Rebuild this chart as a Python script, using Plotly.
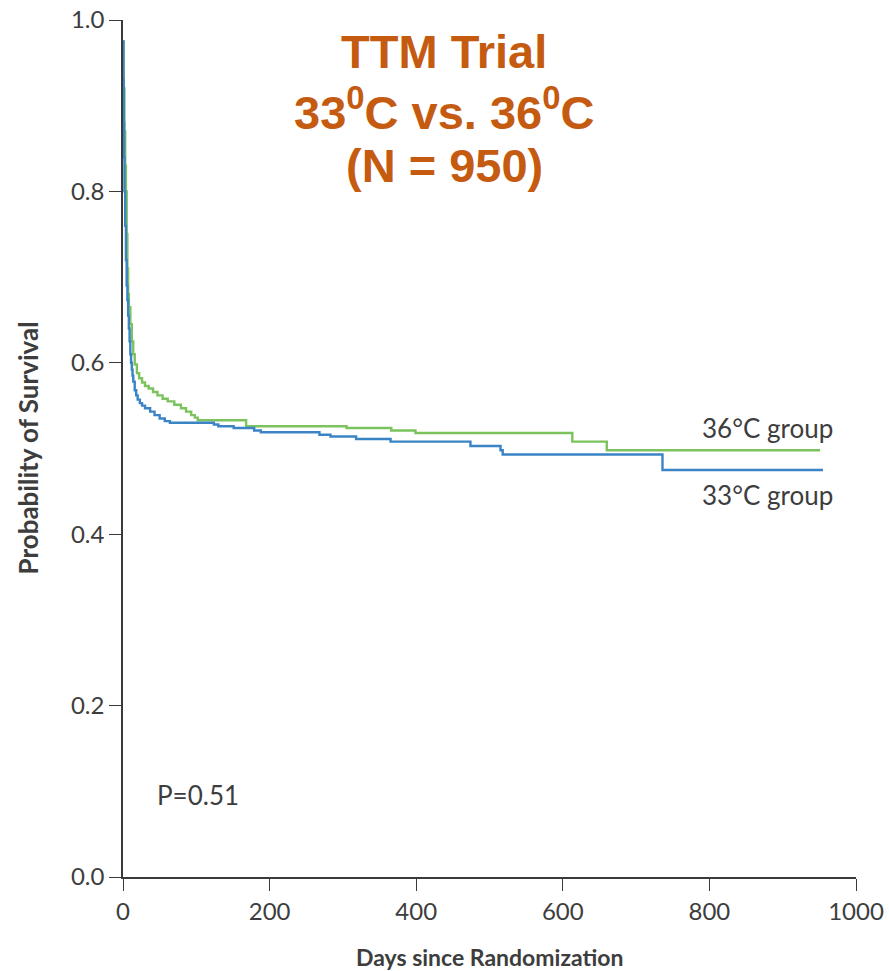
import plotly.graph_objects as go

# Kaplan-Meier step data (days, survival probability)
days_33 = [0, 0.5, 1, 1.5, 2, 3, 4, 5, 6, 7, 8, 9, 10, 11, 12, 13, 14, 16, 18, 20, 23, 26, 30,
           37, 43, 50, 57, 64, 124, 130, 151, 179, 188, 268, 283, 318, 365, 474, 515, 518, 736, 955]
surv_33 = [0.975, 0.93, 0.88, 0.84, 0.80, 0.76, 0.72, 0.69, 0.673, 0.655, 0.64, 0.625, 0.61, 0.60,
           0.592, 0.585, 0.578, 0.568, 0.562, 0.557, 0.553, 0.550, 0.547, 0.543, 0.539, 0.535,
           0.532, 0.530, 0.528, 0.526, 0.524, 0.521, 0.519, 0.516, 0.514, 0.511, 0.508,
           0.503, 0.498, 0.493, 0.475, 0.475]

days_36 = [0, 1, 2, 3, 4, 5, 6, 7, 8, 10, 12, 14, 16, 19, 22, 26, 30, 35, 41, 47, 54, 61, 70, 79,
           86, 93, 98, 102, 168, 305, 366, 399, 613, 660, 951]
surv_36 = [0.975, 0.92, 0.87, 0.83, 0.80, 0.75, 0.71, 0.68, 0.665, 0.645, 0.625, 0.61, 0.598,
           0.588, 0.582, 0.577, 0.573, 0.570, 0.566, 0.562, 0.558, 0.555, 0.551, 0.547, 0.543,
           0.539, 0.536, 0.533, 0.526, 0.524, 0.521, 0.518, 0.508, 0.498, 0.498]

x_ticks = [0, 200, 400, 600, 800, 1000]
y_ticks = [0.0, 0.2, 0.4, 0.6, 0.8, 1.0]

title_lines = ["TTM Trial", "33<sup>0</sup>C vs. 36<sup>0</sup>C", "(N = 950)"]

BLUE = "#3a84c6"
GREEN = "#7cc35e"
TXT = "#3d3d3d"
FONT = "Lato"

fig = go.Figure()
fig.add_trace(go.Scatter(x=days_36, y=surv_36, mode="lines", line=dict(color=GREEN, width=2.4, shape="hv"),
                         name="36°C group", showlegend=False))
fig.add_trace(go.Scatter(x=days_33, y=surv_33, mode="lines", line=dict(color=BLUE, width=2.4, shape="hv"),
                         name="33°C group", showlegend=False))

axis_common = dict(showgrid=False, zeroline=False, showline=True, linecolor="#3a3a3a", linewidth=1.6,
                   ticks="outside", ticklen=12, tickwidth=1.4, tickcolor="#3a3a3a", automargin=False,
                   tickfont=dict(family=FONT, size=24, color=TXT))

fig.update_xaxes(range=[0, 1000], tickvals=x_ticks, **axis_common)
fig.update_yaxes(range=[0, 1.0], tickvals=y_ticks, tickformat=".1f", **axis_common)

annotations = []
for i, line in enumerate(title_lines):
    annotations.append(dict(text=line, xref="paper", yref="paper", x=(444 - 123) / 733, y=1 - (52 + 57 * i - 20) / 857,
                            xanchor="center", yanchor="middle", showarrow=False,
                            font=dict(family="Liberation Sans, Arial", size=47, color="#c55a11", weight="bold")))
annotations += [
    dict(text="36°C group", x=971, y=0.524, xanchor="right", yanchor="middle", showarrow=False,
         font=dict(family=FONT, size=26, color=TXT)),
    dict(text="33°C group", x=971, y=0.446, xanchor="right", yanchor="middle", showarrow=False,
         font=dict(family=FONT, size=26, color=TXT)),
    dict(text="P=0.51", x=44, y=0.096, xanchor="left", yanchor="middle", showarrow=False,
         font=dict(family=FONT, size=26, color=TXT)),
    dict(text="Days since Randomization", xref="paper", yref="paper", x=0.5, y=-(957 - 877) / 857,
         xanchor="center", yanchor="middle", showarrow=False,
         font=dict(family=FONT, size=23, color=TXT, weight="bold")),
    dict(text="Probability of Survival", xref="paper", yref="paper", x=-(123 - 27) / 733, y=0.5,
         xanchor="center", yanchor="middle", showarrow=False, textangle=-90,
         font=dict(family=FONT, size=26, color=TXT, weight="bold")),
]

fig.update_layout(width=889, height=971, margin=dict(l=123, r=33, t=20, b=94),
                  paper_bgcolor="white", plot_bgcolor="white", annotations=annotations,
                  showlegend=False)

fig.write_html("out.html")
